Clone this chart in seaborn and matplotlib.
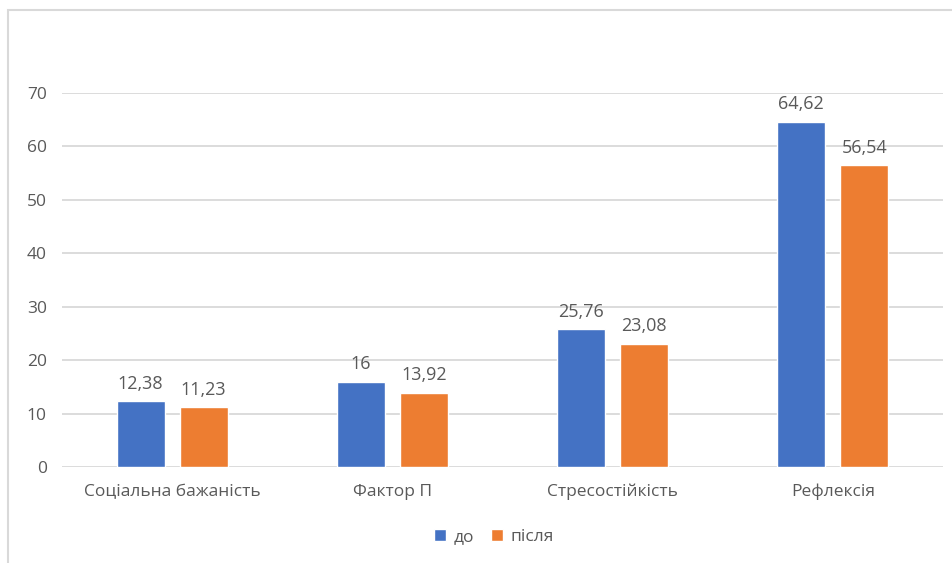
import pandas as pd
import matplotlib
matplotlib.use("Agg")
import matplotlib.pyplot as plt
import seaborn as sns
from matplotlib.patches import Rectangle

# Дані з діаграми
categories = ["Соціальна бажаність", "Фактор П", "Стресостійкість", "Рефлексія"]
series_names = ["до", "після"]
before = [12.38, 16, 25.76, 64.62]
after = [11.23, 13.92, 23.08, 56.54]
y_ticks = [0, 10, 20, 30, 40, 50, 60, 70]

df = pd.DataFrame({
    "Категорія": categories * 2,
    "Серія": [series_names[0]] * 4 + [series_names[1]] * 4,
    "Значення": before + after,
})

sns.set_theme(style="white")
plt.rcParams["font.family"] = ["Open Sans", "DejaVu Sans"]

text_col = "#595959"
grid_col = "#D9D9D9"

fig = plt.figure(figsize=(9.52, 5.63), dpi=100)
ax = fig.add_axes([62 / 952, 1 - 467 / 563, (943 - 62) / 952, (467 - 93) / 563])

sns.barplot(data=df, x="Категорія", y="Значення", hue="Серія",
            palette=["#4472C4", "#ED7D31"], width=0.573, gap=0.238,
            saturation=1, ax=ax, legend=True)

ax.set_ylim(0, 70)
ax.set_xlim(-0.5, 3.5)
ax.set_yticks(y_ticks)
ax.set_xlabel("")
ax.set_ylabel("")
ax.grid(axis="y", color=grid_col, linewidth=1.3)
ax.set_axisbelow(True)
for s in ax.spines.values():
    s.set_visible(False)
ax.tick_params(axis="y", length=0, pad=11, labelsize=12.5, labelcolor=text_col)
ax.tick_params(axis="x", length=0, pad=12, labelsize=12.5, labelcolor=text_col)

# підписи значень
for cont in ax.containers:
    labels = [f"{v:g}".replace(".", ",") for v in cont.datavalues]
    ax.bar_label(cont, labels=labels, padding=6, fontsize=13, color=text_col)

ax.legend(loc="center", bbox_to_anchor=(494 / 952, 1 - 537 / 563),
          bbox_transform=fig.transFigure, ncol=2, frameon=False,
          fontsize=12.5, labelcolor=text_col, handlelength=0.7,
          handleheight=0.7, handletextpad=0.4, columnspacing=1.0)

# рамка діаграми
fig.patches.append(Rectangle((8 / 952, -0.1), 1.2, 1 - 10 / 563 + 0.1,
                             transform=fig.transFigure, fill=False,
                             edgecolor=grid_col, linewidth=1.5))

fig.savefig("out.png", dpi=100)
